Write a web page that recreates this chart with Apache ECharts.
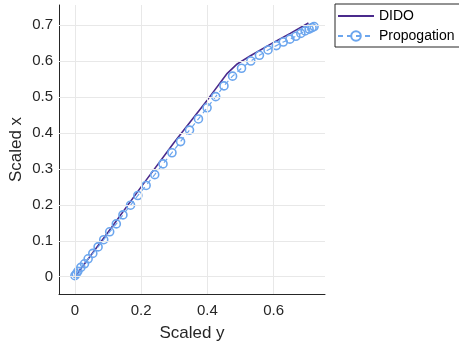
<!DOCTYPE html>
<html lang="en" style="height:100%">
<head>
    <meta charset="UTF-8">
    <title>Scaled trajectory</title>
</head>
<body style="height: 100%; margin: 0; background: #fff">
<div id="container" style="width: 459px; height: 351px"></div>
<script type="text/javascript" src="https://cdn.jsdelivr.net/npm/echarts@6/dist/echarts.min.js"></script>
<script type="text/javascript">

    // DIDO solution (scaled y, scaled x)
    var didoData = [
        [0, 0], [0.1, 0.124], [0.2, 0.25], [0.3, 0.374], [0.4, 0.492],
        [0.46, 0.566], [0.49, 0.592], [0.53, 0.615], [0.6, 0.652],
        [0.65, 0.677], [0.705, 0.706]
    ];

    // propagated points
    var propData = [
        [0, 0.003], [0.004, 0.008], [0.009, 0.015], [0.018, 0.026], [0.029, 0.036],
        [0.04, 0.05], [0.054, 0.065], [0.07, 0.083], [0.087, 0.103], [0.105, 0.125],
        [0.125, 0.147], [0.145, 0.172], [0.168, 0.199], [0.19, 0.226], [0.215, 0.254],
        [0.241, 0.284], [0.266, 0.314], [0.293, 0.345], [0.319, 0.376], [0.346, 0.408],
        [0.373, 0.439], [0.399, 0.47], [0.425, 0.501], [0.45, 0.531], [0.476, 0.558],
        [0.503, 0.58], [0.531, 0.6], [0.557, 0.616], [0.583, 0.631], [0.608, 0.643],
        [0.629, 0.653], [0.649, 0.661], [0.667, 0.669], [0.682, 0.677], [0.695, 0.684],
        [0.707, 0.689], [0.716, 0.693], [0.722, 0.696]
    ];

    var seriesNames = ['DIDO', 'Propogation'];
    var xTicks = [0, 0.2, 0.4, 0.6];
    var yTicks = [0, 0.1, 0.2, 0.3, 0.4, 0.5, 0.6, 0.7];

    var dom = document.getElementById("container");
    var myChart = echarts.init(dom);

    var font = 'Liberation Sans, Arial, sans-serif';
    var fmt = function (v) { return Math.abs(v) < 1e-9 ? '0' : String(+v.toFixed(1)); };

    // grid lines drawn as markLines on the tick values
    var gridLines = [];
    xTicks.forEach(function (v) { gridLines.push({xAxis: v}); });
    yTicks.forEach(function (v) { gridLines.push({yAxis: v}); });

    var option = {
        animation: false,
        backgroundColor: '#fff',
        grid: {left: 59, right: 134, top: 5, bottom: 57, outerBoundsMode: 'none', containLabel: false},
        legend: {
            data: [
                {name: seriesNames[0], itemStyle: {color: 'rgba(0,0,0,0)', borderWidth: 0}},
                {name: seriesNames[1]}
            ],
            orient: 'vertical',
            left: 335,
            top: 4,
            itemWidth: 36,
            itemHeight: 12,
            itemGap: 6,
            padding: [5, 30, 4, 2],
            borderColor: '#262626',
            borderWidth: 1,
            borderRadius: 0,
            backgroundColor: '#fff',
            textStyle: {color: '#000', fontSize: 14, fontFamily: font}
        },
        xAxis: {
            type: 'value',
            min: -0.048,
            max: 0.755,
            name: 'Scaled y',
            nameLocation: 'middle',
            nameGap: 31,
            nameMoveOverlap: false,
            nameTextStyle: {color: '#262626', fontSize: 17, fontFamily: font},
            axisLine: {show: true, onZero: false, lineStyle: {color: '#262626', width: 1}},
            axisTick: {show: true, inside: true, length: 3, lineStyle: {color: '#262626'}, customValues: xTicks},
            splitLine: {show: false},
            axisLabel: {color: '#262626', fontSize: 15, fontFamily: font, margin: 9, customValues: xTicks, formatter: fmt}
        },
        yAxis: {
            type: 'value',
            min: -0.048,
            max: 0.756,
            name: 'Scaled x',
            nameLocation: 'middle',
            nameGap: 34,
            nameMoveOverlap: false,
            nameTextStyle: {color: '#262626', fontSize: 17, fontFamily: font},
            axisLine: {show: true, onZero: false, lineStyle: {color: '#262626', width: 1}},
            axisTick: {show: true, inside: true, length: 3, lineStyle: {color: '#262626'}, customValues: yTicks},
            splitLine: {show: false},
            axisLabel: {color: '#262626', fontSize: 15, fontFamily: font, margin: 6, customValues: yTicks, formatter: fmt}
        },
        series: [
            {
                name: 'grid',
                type: 'line',
                data: [],
                z: 0,
                silent: true,
                markLine: {
                    silent: true,
                    symbol: ['none', 'none'],
                    label: {show: false},
                    lineStyle: {color: '#e8e8e8', width: 1, type: 'solid'},
                    emphasis: {disabled: true},
                    animation: false,
                    data: gridLines
                }
            },
            {
                name: seriesNames[0],
                type: 'line',
                data: didoData,
                showSymbol: false,
                symbol: 'none',
                z: 2,
                lineStyle: {color: '#4a2a8c', width: 1.6},
                itemStyle: {color: '#4a2a8c'}
            },
            {
                name: seriesNames[1],
                type: 'line',
                data: propData,
                symbol: 'circle',
                symbolSize: 8,
                z: 3,
                lineStyle: {color: '#6ca6ee', width: 1.2, type: [5, 4]},
                itemStyle: {color: 'rgba(255,255,255,0)', borderColor: '#6ca6ee', borderWidth: 1.6}
            }
        ]
    };

    myChart.setOption(option, true);
</script>
</body>
</html>
